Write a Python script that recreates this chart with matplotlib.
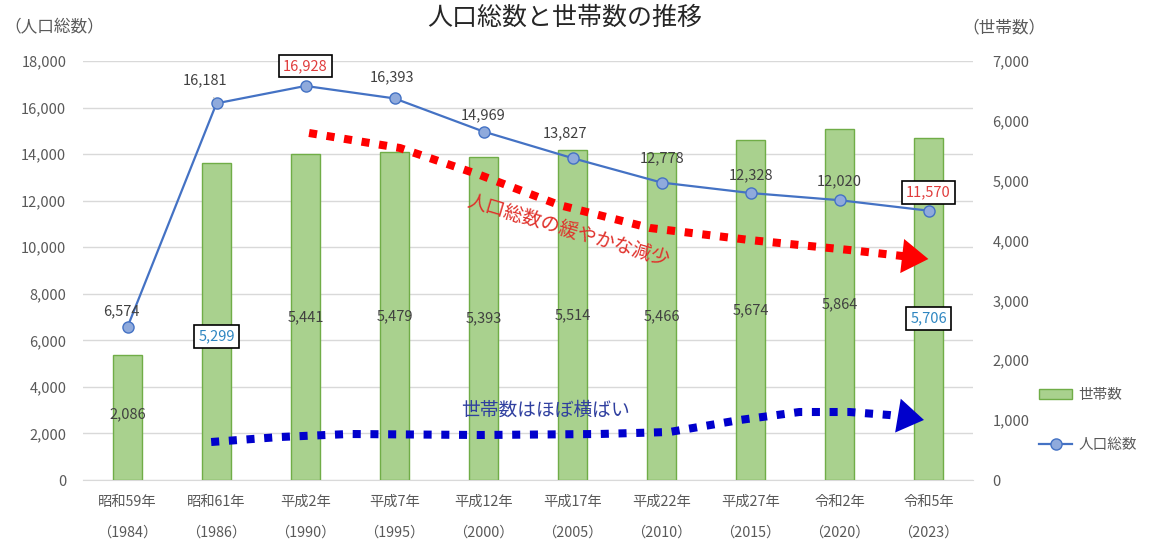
import matplotlib
matplotlib.use("Agg")
import matplotlib.pyplot as plt
from matplotlib.patches import Patch
from matplotlib.lines import Line2D

plt.rcParams['font.family'] = ['Noto Sans CJK JP', 'DejaVu Sans']

# ---------------- data ----------------
era_labels = ["昭和59年", "昭和61年", "平成2年", "平成7年", "平成12年",
              "平成17年", "平成22年", "平成27年", "令和2年", "令和5年"]
year_labels = ["（1984）", "（1986）", "（1990）", "（1995）", "（2000）",
               "（2005）", "（2010）", "（2015）", "（2020）", "（2023）"]
population = [6574, 16181, 16928, 16393, 14969, 13827, 12778, 12328, 12020, 11570]
households = [2086, 5299, 5441, 5479, 5393, 5514, 5466, 5674, 5864, 5706]

# decorative trend arrows (category index, left-axis value)
red_arrow_x = [2.04, 3.06, 3.96, 4.85, 5.87, 6.99, 8.11, 8.85]
red_arrow_y = [14907, 14263, 13103, 11814, 10826, 10310, 9881, 9560]
blue_arrow_x = [0.94, 1.71, 2.49, 3.96, 5.30, 6.09, 6.88, 7.55, 8.11, 8.56, 8.80]
blue_arrow_y = [1632, 1847, 1976, 1933, 1976, 2062, 2578, 2921, 2921, 2792, 2680]

# ---------------- styles ----------------
PX = 0.72  # points per pixel at dpi 100
pop_label_offsets = [(-6, 16), (-11, 23), (0, 20), (-3, 21), (0, 16),
                     (-8, 25), (1, 24), (0, 18), (0, 19), (0, 18)]
pop_label_boxed = [False, False, True, False, False, False, False, False, False, True]
hh_label_offsets = [(0, 3), (0, -15), (0, 0), (0, 0), (0, 0),
                    (0, 0), (0, 0), (0, 0), (0, 0), (0, -9)]
hh_label_boxed = [False, True, False, False, False, False, False, False, False, True]

TEXT = '#404040'
TICK = '#595959'
GRID = '#d9d9d9'
LINE = '#4472c4'
BAR_FACE = '#a9d18e'
BAR_EDGE = '#70ad47'

fig = plt.figure(figsize=(11.5, 5.42), dpi=100)
rect = [83 / 1150, 1 - 480 / 542, (973 - 83) / 1150, (480 - 61) / 542]
ax_grid = fig.add_axes(rect)
ax_bar = ax_grid.twinx()
ax_line = ax_grid.twinx()

x = list(range(len(population)))

# grid axis (left ticks)
ax_grid.set_xlim(-0.5, len(x) - 0.5)
ax_grid.set_ylim(0, 18000)
ax_grid.set_yticks(range(0, 18001, 2000))
ax_grid.set_yticklabels([f"{v:,}" for v in range(0, 18001, 2000)])
ax_grid.yaxis.grid(True, color=GRID, lw=1)
ax_grid.set_axisbelow(True)
ax_grid.set_xticks(x)
ax_grid.set_xticklabels([f"{a}\n{b}" for a, b in zip(era_labels, year_labels)],
                        linespacing=2.5)
ax_grid.tick_params(axis='both', length=0, labelsize=10.5, colors=TICK)
ax_grid.tick_params(axis='y', pad=12)
ax_grid.tick_params(axis='x', pad=11)
for lab in ax_grid.get_xticklabels():
    lab.set_fontsize(10.3)
for s in ['top', 'right', 'left']:
    ax_grid.spines[s].set_visible(False)
ax_grid.spines['bottom'].set_color(GRID)

# bar axis (right ticks)
ax_bar.set_ylim(0, 7000)
ax_bar.set_yticks(range(0, 7001, 1000))
ax_bar.set_yticklabels([f"{v:,}" for v in range(0, 7001, 1000)])
ax_bar.tick_params(axis='y', length=0, labelsize=10.5, colors=TICK, pad=14)
for s in ax_bar.spines.values():
    s.set_visible(False)
bars = ax_bar.bar(x, households, width=0.33, color=BAR_FACE, edgecolor=BAR_EDGE,
                  linewidth=1.0, zorder=2)
for i, v in enumerate(households):
    dx, dy = hh_label_offsets[i]
    if hh_label_boxed[i]:
        ax_bar.annotate(f"{v:,}", (i, v / 2), xytext=(dx * PX, dy * PX),
                        textcoords='offset points', ha='center', va='center',
                        fontsize=10.5, color='#2e86c1', zorder=5,
                        bbox=dict(boxstyle='square,pad=0.3', fc='white', ec='black', lw=1.2))
    else:
        ax_bar.annotate(f"{v:,}", (i, v / 2), xytext=(dx * PX, dy * PX),
                        textcoords='offset points', ha='center', va='center',
                        fontsize=10.5, color=TEXT, zorder=5)

# line axis
ax_line.set_ylim(0, 18000)
ax_line.set_yticks([])
for s in ax_line.spines.values():
    s.set_visible(False)
ax_line.plot(x, population, color=LINE, lw=1.6, marker='o', markersize=8,
             markerfacecolor='#8faadc', markeredgecolor=LINE, markeredgewidth=1.0, zorder=3)

for i, v in enumerate(population):
    dx, dy = pop_label_offsets[i]
    kw = dict(textcoords='offset points', ha='center', va='center', fontsize=10.5, zorder=6)
    if pop_label_boxed[i]:
        ax_line.annotate(f"{v:,}", (i, v), xytext=(dx * PX, dy * PX), color='#e03c3c',
                         bbox=dict(boxstyle='square,pad=0.3', fc='white', ec='black', lw=1.2),
                         **kw)
    elif i == 1:
        ax_line.annotate(f"{v:,}", (i, v), xytext=(dx * PX, dy * PX), color=TEXT,
                         arrowprops=dict(arrowstyle='-', color='#a6a6a6', lw=0.8,
                                         shrinkA=6, shrinkB=4), **kw)
    else:
        ax_line.annotate(f"{v:,}", (i, v), xytext=(dx * PX, dy * PX), color=TEXT, **kw)

# decorative dotted trend arrows
ax_line.plot(red_arrow_x, red_arrow_y, color='#ff0000', lw=5.8,
             linestyle=(0, (1.0, 1.2)), dash_capstyle='butt', zorder=4)
ax_line.annotate('', xy=(9.03, 9480), xytext=(8.80, 9580),
                 arrowprops=dict(arrowstyle='-|>,head_length=1.0,head_width=0.65',
                                 color='#ff0000', lw=0, mutation_scale=19), zorder=4)
ax_line.plot(blue_arrow_x, blue_arrow_y, color='#0000cc', lw=5.8,
             linestyle=(0, (1.0, 1.2)), dash_capstyle='butt', zorder=4)
ax_line.annotate('', xy=(8.98, 2560), xytext=(8.76, 2700),
                 arrowprops=dict(arrowstyle='-|>,head_length=1.0,head_width=0.65',
                                 color='#0000cc', lw=0, mutation_scale=19), zorder=4)

fig.text(568 / 1150, 1 - 231 / 542, "人口総数の緩やかな減少", rotation=-16.5,
         ha='center', va='center', fontsize=13.8, color='#e0302a',
         rotation_mode='anchor')
fig.text(545 / 1150, 1 - 410 / 542, "世帯数はほぼ横ばい",
         ha='center', va='center', fontsize=13.5, color='#2f3f9f')

# titles and axis captions
fig.text(565 / 1150, 1 - 18 / 542, "人口総数と世帯数の推移", ha='center', va='center',
         fontsize=18, color='#262626')
fig.text(4 / 1150, 1 - 28 / 542, "（人口総数）", ha='left', va='center',
         fontsize=12, color=TICK)
fig.text(962 / 1150, 1 - 28 / 542, "（世帯数）", ha='left', va='center',
         fontsize=12, color=TICK)

# legend
handles = [Patch(facecolor=BAR_FACE, edgecolor=BAR_EDGE, linewidth=1.0),
           Line2D([0], [0], color=LINE, lw=1.6, marker='o', markersize=8,
                  markerfacecolor='#8faadc', markeredgecolor=LINE)]
fig.legend(handles, ["世帯数", "人口総数"], loc='center left',
           bbox_to_anchor=(1036 / 1150, 1 - 420 / 542), frameon=False,
           fontsize=10.5, labelspacing=2.5, handlelength=2.3, handletextpad=0.4,
           labelcolor=TICK, borderaxespad=0, borderpad=0.2)

fig.savefig("out.png", dpi=100)
